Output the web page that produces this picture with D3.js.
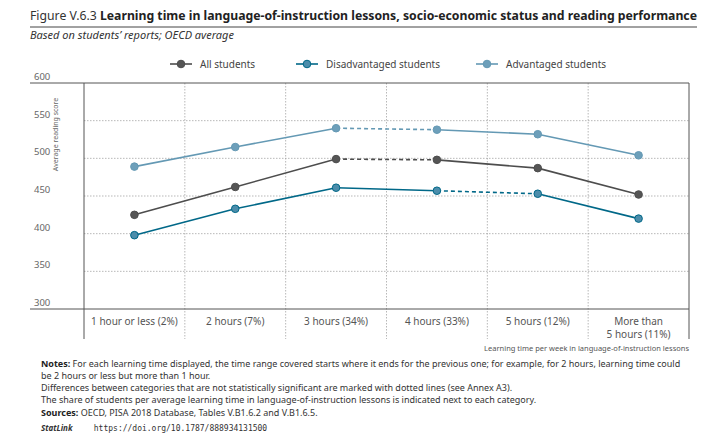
<!DOCTYPE html>
<html><head><meta charset="utf-8">
<script src="https://cdn.jsdelivr.net/npm/d3@7"></script>
<style>
body{margin:0;background:#fff;font-family:"Noto Sans",sans-serif;}
svg text{fill:#333;}
</style></head><body>
<svg id="chart" width="718" height="447"></svg>
<script>
const categories = ['1 hour or less (2%)', '2 hours (7%)', '3 hours (34%)', '4 hours (33%)', '5 hours (12%)', 'More than|5 hours (11%)'];
const allStudents = [425, 462, 499, 498, 487, 452];
const disadvantaged = [398, 433, 461, 457, 453, 420];
const advantaged = [489, 515, 540, 538, 532, 504];
// index of segments (i -> i+1) drawn dashed (not significant)
const allDashed = [2];
const disDashed = [3];
const advDashed = [2];
const yTicks = [300, 350, 400, 450, 500, 550, 600];

const series = [
  {name: 'All students', values: allStudents, dashed: allDashed, color: '#4d4d4d', fill: '#555'},
  {name: 'Disadvantaged students', values: disadvantaged, dashed: disDashed, color: '#006888', fill: '#4c8dab'},
  {name: 'Advantaged students', values: advantaged, dashed: advDashed, color: '#6499b4', fill: '#6d9fba'}
];

const svg = d3.select('#chart');
const margin = {left: 84, right: 29, top: 83, bottom: 138};
const W = 718, H = 447;

const x = d3.scaleBand().domain(categories).range([margin.left, W - margin.right]);
const y = d3.scaleLinear().domain([300, 600]).range([H - margin.bottom, margin.top]);

// title
const t = svg.append('text').attr('x', 30).attr('y', 20).style('font-size', '13px')
  .attr('textLength', 667).attr('lengthAdjust', 'spacingAndGlyphs');
t.append('tspan').text('Figure V.6.3  ').style('font-weight', 'normal');
t.append('tspan').text('Learning time in language-of-instruction lessons, socio-economic status and reading performance').style('font-weight', 'bold').style('fill', '#222');
svg.append('line').attr('x1', 30).attr('x2', 697).attr('y1', 27).attr('y2', 27).attr('stroke', '#444').attr('stroke-width', 1);
svg.append('text').attr('x', 30).attr('y', 39).style('font-size', '11px').style('font-style', 'italic').text('Based on students\u2019 reports; OECD average');

// grid
svg.append('g').selectAll('line').data(yTicks.slice(1, -1)).join('line')
  .attr('x1', margin.left).attr('x2', W - margin.right)
  .attr('y1', d => y(d)).attr('y2', d => y(d))
  .attr('stroke', '#999').attr('stroke-dasharray', '1.5,1.5').attr('stroke-width', 0.7);
svg.append('g').selectAll('line').data(categories.slice(1)).join('line')
  .attr('x1', d => x(d)).attr('x2', d => x(d))
  .attr('y1', margin.top).attr('y2', H - margin.bottom + 30)
  .attr('stroke', '#999').attr('stroke-dasharray', '1.5,1.5').attr('stroke-width', 0.7);

// frame
svg.append('line').attr('x1', 30).attr('x2', W - margin.right).attr('y1', y(600)).attr('y2', y(600)).attr('stroke', '#555');
svg.append('line').attr('x1', 30).attr('x2', W - margin.right).attr('y1', y(300)).attr('y2', y(300)).attr('stroke', '#555');
svg.append('line').attr('x1', margin.left).attr('x2', margin.left).attr('y1', margin.top).attr('y2', H - margin.bottom + 30).attr('stroke', '#555');
svg.append('line').attr('x1', W - margin.right).attr('x2', W - margin.right).attr('y1', margin.top).attr('y2', H - margin.bottom + 30).attr('stroke', '#555');

// y labels
svg.append('g').selectAll('text').data(yTicks).join('text')
  .attr('x', 34).attr('y', d => y(d) - 3).style('font-size', '9.5px').style('fill', '#666').text(d => d);
svg.append('text').attr('transform', `translate(58,${(y(600) + y(450)) / 2 - 5}) rotate(-90)`)
  .attr('text-anchor', 'middle').style('font-size', '7px').style('fill', '#666').text('Average reading score');

// x labels
const xl = svg.append('g').selectAll('text').data(categories).join('text')
  .attr('x', d => x(d) + x.bandwidth() / 2).attr('y', y(300) + 16)
  .attr('text-anchor', 'middle').style('font-size', '10px').style('fill', '#555');
xl.each(function(d) {
  d.split('|').forEach((s, i) => d3.select(this).append('tspan')
    .attr('x', x(d) + x.bandwidth() / 2).attr('dy', i ? 13 : 0).text(s));
});
svg.append('text').attr('x', W - margin.right).attr('y', 351).attr('text-anchor', 'end')
  .style('font-size', '7.5px').style('fill', '#555').text('Learning time per week in language-of-instruction lessons');

// lines
const cx = i => x(categories[i]) + x.bandwidth() / 2;
series.forEach(s => {
  const g = svg.append('g');
  const segs = d3.range(s.values.length - 1);
  g.selectAll('line').data(segs).join('line')
    .attr('x1', i => cx(i)).attr('x2', i => cx(i + 1))
    .attr('y1', i => y(s.values[i])).attr('y2', i => y(s.values[i + 1]))
    .attr('stroke', s.color).attr('stroke-width', 1.6)
    .attr('stroke-dasharray', i => s.dashed.includes(i) ? '4,3' : null);
  g.selectAll('circle').data(s.values).join('circle')
    .attr('cx', (d, i) => cx(i)).attr('cy', d => y(d)).attr('r', 3.8)
    .attr('fill', s.fill).attr('stroke', s.color).attr('stroke-width', 1);
});

// legend
const legX = [170, 296, 476];
series.forEach((s, i) => {
  const g = svg.append('g').attr('transform', `translate(${legX[i]},64)`);
  g.append('line').attr('x1', 0).attr('x2', 22).attr('stroke', s.color).attr('stroke-width', 1.6);
  g.append('circle').attr('cx', 11).attr('r', 3.8).attr('fill', s.fill).attr('stroke', s.color);
  g.append('text').attr('x', 30).attr('y', 4).style('font-size', '10px').style('fill', '#444').text(s.name);
});

// notes
const notes = svg.append('g').style('font-size', '9px').style('fill', '#555');
const n1 = notes.append('text').attr('x', 41).attr('y', 367);
n1.append('tspan').text('Notes: ').style('font-weight', 'bold').style('fill', '#222');
n1.append('tspan').text('For each learning time displayed, the time range covered starts where it ends for the previous one; for example, for 2 hours, learning time could');
notes.append('text').attr('x', 41).attr('y', 379).text('be 2 hours or less but more than 1 hour.');
notes.append('text').attr('x', 41).attr('y', 391).text('Differences between categories that are not statistically significant are marked with dotted lines (see Annex A3).');
notes.append('text').attr('x', 41).attr('y', 403).text('The share of students per average learning time in language-of-instruction lessons is indicated next to each category.');
const n2 = notes.append('text').attr('x', 41).attr('y', 416);
n2.append('tspan').text('Sources: ').style('font-weight', 'bold').style('fill', '#222');
n2.append('tspan').text('OECD, PISA 2018 Database, Tables V.B1.6.2 and V.B1.6.5.');
const n3 = notes.append('text').attr('x', 41).attr('y', 431).style('font-size', '8px');
n3.append('tspan').text('StatLink ').style('font-weight', 'bold').style('font-style', 'italic');
n3.append('tspan').text('\u2002\u2002\u2002 https://doi.org/10.1787/888934131500').style('font-family', '"DejaVu Sans Mono", monospace');
</script>
</body></html>
